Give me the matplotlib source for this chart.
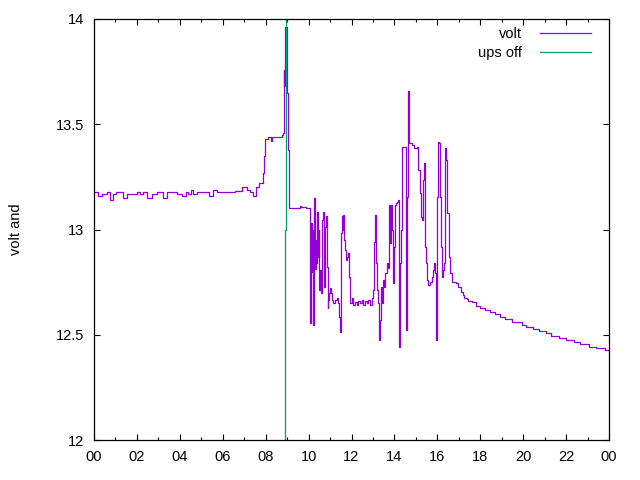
import matplotlib
matplotlib.use('Agg')
import matplotlib.pyplot as plt
from matplotlib.ticker import MultipleLocator, FuncFormatter

plt.rcParams['font.family'] = ['Liberation Sans', 'DejaVu Sans']

# time of day in hours, battery voltage (change points, held until next point)
volt_hours = [
    0.00, 0.20, 0.36, 0.59, 0.75, 0.90, 1.03, 1.18, 1.34, 1.52, 1.76, 1.99,
    2.14, 2.30, 2.45, 2.69, 2.92, 3.20, 3.42, 3.70, 3.85, 4.09, 4.29, 4.40,
    4.52, 4.63, 4.78, 5.02, 5.25, 5.37, 5.53, 5.72, 6.49, 6.57, 6.88, 7.11,
    7.27, 7.43, 7.55, 7.70, 7.86, 7.92, 7.98, 8.12, 8.25, 8.31, 8.74, 8.82,
    8.84, 8.86, 8.88, 8.95, 8.98, 9.02, 9.07, 9.60, 9.65, 9.76, 9.88,
    10.04, 10.05, 10.08, 10.11, 10.14, 10.17, 10.21, 10.24, 10.27, 10.30,
    10.33, 10.36, 10.41, 10.44, 10.47, 10.50, 10.53, 10.56, 10.61, 10.64,
    10.67, 10.70, 10.73, 10.78, 10.81, 10.84, 10.89, 10.92, 10.97, 11.00,
    11.04, 11.09, 11.15, 11.23, 11.31, 11.39, 11.43, 11.46, 11.50, 11.53,
    11.56, 11.59, 11.62, 11.67, 11.71, 11.76, 11.81, 11.85, 11.90, 11.93,
    12.01, 12.09, 12.16, 12.24, 12.32, 12.40, 12.47, 12.55, 12.63, 12.71,
    12.78, 12.86, 12.94, 13.02, 13.05, 13.10, 13.13, 13.17, 13.22, 13.27,
    13.30, 13.33, 13.37, 13.42, 13.47, 13.51, 13.56, 13.64, 13.69, 13.73,
    13.76, 13.81, 13.84, 13.89, 13.93, 13.98, 14.03, 14.07, 14.14, 14.18,
    14.21, 14.23, 14.26, 14.31, 14.34, 14.51, 14.54, 14.56, 14.60, 14.63,
    14.68, 14.80, 14.91, 15.04, 15.10, 15.19, 15.24, 15.29, 15.33, 15.38,
    15.43, 15.47, 15.52, 15.58, 15.66, 15.74, 15.78, 15.84, 15.89, 15.92,
    15.95, 15.99, 16.03, 16.08, 16.11, 16.16, 16.20, 16.25, 16.31, 16.36,
    16.42, 16.47, 16.53, 16.59, 16.67, 16.78, 16.87, 16.98,
    17.09, 17.18, 17.24, 17.37, 17.45, 17.60, 17.80, 17.99, 18.22, 18.45,
    18.69, 18.92, 19.15, 19.46, 19.93, 20.13, 20.47, 20.75, 21.06, 21.28,
    21.69, 22.00, 22.37, 22.65, 23.08, 23.40, 23.81, 24.00,
]
volt_values = [
    13.18, 13.16, 13.17, 13.18, 13.14, 13.17, 13.18, 13.18, 13.15, 13.17, 13.17, 13.18,
    13.17, 13.18, 13.15, 13.17, 13.18, 13.15, 13.18, 13.18, 13.17, 13.16, 13.18, 13.17,
    13.19, 13.17, 13.18, 13.18, 13.18, 13.16, 13.19, 13.18, 13.18, 13.185, 13.20, 13.19,
    13.18, 13.16, 13.20, 13.22, 13.27, 13.35, 13.43, 13.44, 13.42, 13.44, 13.45, 13.46,
    13.76, 13.68, 13.96, 13.96, 13.65, 13.38, 13.10, 13.11, 13.105, 13.108, 13.10,
    13.10, 12.85, 12.554, 13.03, 12.80, 13.00, 12.546, 12.84, 13.148, 12.81, 12.95,
    12.84, 13.085, 12.87, 13.00, 12.713, 12.808, 12.697, 12.95, 13.045, 13.085,
    12.90, 12.728, 13.01, 13.064, 12.823, 12.625, 12.665, 12.697, 12.72,
    12.697, 12.665, 12.649, 12.665, 12.673, 12.649, 12.586, 12.515, 12.728, 12.982,
    13.064, 12.998, 13.069, 12.95, 12.903, 12.855, 12.871, 12.887, 12.776, 12.649,
    12.673, 12.641, 12.657, 12.641, 12.662, 12.649, 12.665, 12.641, 12.662, 12.649,
    12.665, 12.641, 12.673, 12.713, 12.942, 13.069, 12.839, 12.713, 12.649, 12.586,
    12.475, 12.57, 12.728, 12.649, 12.76, 12.728, 12.792, 12.839, 12.816, 12.966,
    13.116, 12.934, 13.116, 12.998, 12.744, 12.918, 13.116, 13.124, 13.132, 13.14,
    12.871, 12.443, 12.839, 12.998, 13.393, 13.393, 12.95, 12.523, 13.156, 13.66,
    13.409, 13.401, 13.386, 13.393, 13.283, 13.172, 13.06, 13.045, 13.235, 13.314,
    12.918, 12.839, 12.76, 12.736, 12.752, 12.776, 12.808, 12.839, 12.792, 12.64,
    12.475, 13.156, 13.417, 13.409, 13.156, 12.918, 12.776, 12.808, 12.839, 13.386,
    13.33, 13.077, 12.871, 12.792, 12.752, 12.752, 12.744, 12.728,
    12.705, 12.689, 12.673, 12.668, 12.661, 12.654, 12.638, 12.628, 12.618, 12.610,
    12.599, 12.586, 12.575, 12.562, 12.546, 12.535, 12.527, 12.518, 12.507, 12.496,
    12.483, 12.475, 12.464, 12.455, 12.443, 12.436, 12.428, 12.425,
]

# "ups off" marker series
ups_hours = [8.91, 8.91, 8.96, 8.96]
ups_values = [11.0, 13.0, 13.0, 15.0]

xtick_labels = ['00', '02', '04', '06', '08', '10', '12',
                '14', '16', '18', '20', '22', '00']

fig = plt.figure(figsize=(6.4, 4.8), dpi=100)
ax = fig.add_axes([94 / 640, 1 - 440 / 480, (609 - 94) / 640, (440 - 19) / 480])

ax.plot(volt_hours, volt_values, color='#9400D3', linewidth=0.9,
        drawstyle='steps-post', label='volt')
ax.plot(ups_hours, ups_values, color='#009E73', linewidth=0.9, label='ups off')

ax.set_xlim(0, 24)
ax.set_ylim(12, 14)
ax.set_xticks(range(0, 25, 2))
ax.set_xticklabels(xtick_labels)
ax.xaxis.set_minor_locator(MultipleLocator(1))
ax.yaxis.set_major_locator(MultipleLocator(0.5))
ax.yaxis.set_major_formatter(FuncFormatter(lambda v, p: '%g' % v))

ax.tick_params(which='both', direction='in', top=True, right=True,
               labelsize=10.5, width=0.8, pad=7)
ax.tick_params(which='major', length=4.5)
ax.tick_params(which='minor', length=2.5)
for s in ax.spines.values():
    s.set_linewidth(0.9)

ax.set_ylabel('volt and', fontsize=10.5, labelpad=24)

ax.legend(loc='upper right', frameon=False, markerfirst=False, fontsize=10.5,
          handlelength=3.5, handletextpad=1.2, labelspacing=0.35,
          borderaxespad=0.3, bbox_to_anchor=(0.984, 1.006))

fig.savefig('out.png', dpi=100)
